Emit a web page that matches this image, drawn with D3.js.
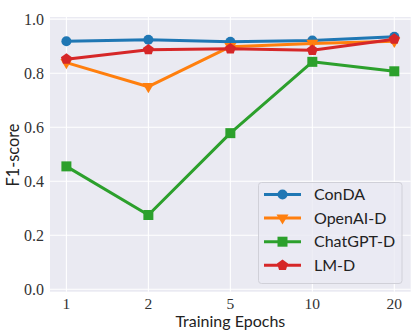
<!DOCTYPE html>
<html><head><meta charset="utf-8">
<script src="https://cdn.jsdelivr.net/npm/d3@7"></script>
<style>body{margin:0;background:#fff}svg{display:block}</style>
</head><body>
<svg id="c" width="415" height="332"></svg>
<script>
const categories = ["1", "2", "5", "10", "20"];
const yTicks = [0.0, 0.2, 0.4, 0.6, 0.8, 1.0];
const seriesNames = ["ConDA", "OpenAI-D", "ChatGPT-D", "LM-D"];
const conda = [0.918, 0.924, 0.916, 0.921, 0.935];
const openai = [0.839, 0.750, 0.898, 0.910, 0.918];
const chatgpt = [0.455, 0.275, 0.578, 0.842, 0.807];
const lmd = [0.852, 0.887, 0.890, 0.885, 0.926];
const colors = ["#1f77b4", "#ff7f0e", "#2ca02c", "#d62728"];
const markers = ["circle", "triangle", "square", "pentagon"];

const svg = d3.select("#c");
const L = 50, R = 410.7, T = 17, B = 291.7;
const x = d3.scaleLinear().domain([-0.2, categories.length - 1 + 0.2]).range([L, R]);
const y = d3.scaleLinear().domain([-0.009, 1.008]).range([B, T]);

svg.append("rect").attr("x", L).attr("y", T).attr("width", R - L).attr("height", B - T).attr("fill", "#EAEAF2");
const g = svg.append("g");
g.selectAll(".gy").data(yTicks).join("line")
  .attr("x1", L).attr("x2", R).attr("y1", d => y(d)).attr("y2", d => y(d))
  .attr("stroke", "#fff").attr("stroke-width", 1.1);
g.selectAll(".gx").data(categories).join("line")
  .attr("y1", T).attr("y2", B).attr("x1", (d, i) => x(i)).attr("x2", (d, i) => x(i))
  .attr("stroke", "#fff").attr("stroke-width", 1.1);

const serif = "'Liberation Serif', 'DejaVu Serif', serif";
const sans = "Lato, 'DejaVu Sans', sans-serif";
svg.append("g").selectAll("text").data(yTicks).join("text")
  .attr("x", L - 6).attr("y", d => y(d)).attr("dy", "0.36em").attr("text-anchor", "end")
  .attr("font-family", serif).attr("font-size", 16).attr("fill", "#333")
  .text(d => d.toFixed(1));
svg.append("g").selectAll("text").data(categories).join("text")
  .attr("x", (d, i) => x(i)).attr("y", 308.5).attr("text-anchor", "middle")
  .attr("font-family", serif).attr("font-size", 15.5).attr("fill", "#333")
  .text(d => d);
svg.append("text").attr("x", (L + R) / 2).attr("y", 326.5).attr("text-anchor", "middle")
  .attr("font-family", sans).attr("font-size", 16).attr("fill", "#222").text("Training Epochs");
svg.append("text").attr("transform", `translate(18.5,155) rotate(-90)`)
  .attr("text-anchor", "middle").attr("font-family", sans).attr("font-size", 16.3).attr("fill", "#222").text("F1-score");

function markerPath(type) {
  if (type === "circle") return d3.symbol(d3.symbolCircle, Math.PI * 5 * 5)();
  if (type === "square") return d3.symbol(d3.symbolSquare, 10 * 10)();
  if (type === "triangle") { const r = 6; return `M${-r},${-r*0.6}L${r},${-r*0.6}L0,${r*1.1}Z`; }
  if (type === "pentagon") {
    const r = 5.8; let p = "";
    for (let k = 0; k < 5; k++) { const a = -Math.PI / 2 + k * 2 * Math.PI / 5; p += (k ? "L" : "M") + (r * Math.cos(a)).toFixed(2) + "," + (r * Math.sin(a)).toFixed(2); }
    return p + "Z";
  }
}

const allSeries = [conda, openai, chatgpt, lmd];
const line = d3.line().x((d, i) => x(i)).y(d => y(d));
allSeries.forEach((vals, si) => {
  const sg = svg.append("g");
  sg.append("path").attr("d", line(vals)).attr("fill", "none").attr("stroke", colors[si])
    .attr("stroke-width", 3).attr("stroke-linejoin", "round").attr("stroke-linecap", "round");
  sg.selectAll("path.m").data(vals).join("path").attr("class", "m")
    .attr("transform", (d, i) => `translate(${x(i)},${y(d)})`)
    .attr("d", markerPath(markers[si])).attr("fill", colors[si]);
});

// legend
const lg = svg.append("g");
lg.append("rect").attr("x", 258.5).attr("y", 182.5).attr("width", 143.5).attr("height", 101)
  .attr("rx", 3).attr("fill", "#EAEAF2").attr("fill-opacity", 0.8).attr("stroke", "#d0d0d8").attr("stroke-width", 1);
const ly = [194.5, 218, 241.7, 265.3];
seriesNames.forEach((n, i) => {
  lg.append("line").attr("x1", 264).attr("x2", 301).attr("y1", ly[i]).attr("y2", ly[i])
    .attr("stroke", colors[i]).attr("stroke-width", 3);
  lg.append("path").attr("transform", `translate(282.5,${ly[i]})`).attr("d", markerPath(markers[i])).attr("fill", colors[i]);
  lg.append("text").attr("x", 314).attr("y", ly[i]).attr("dy", "0.36em")
    .attr("font-family", sans).attr("font-size", 16).attr("fill", "#222").text(n);
});
</script>
</body></html>
